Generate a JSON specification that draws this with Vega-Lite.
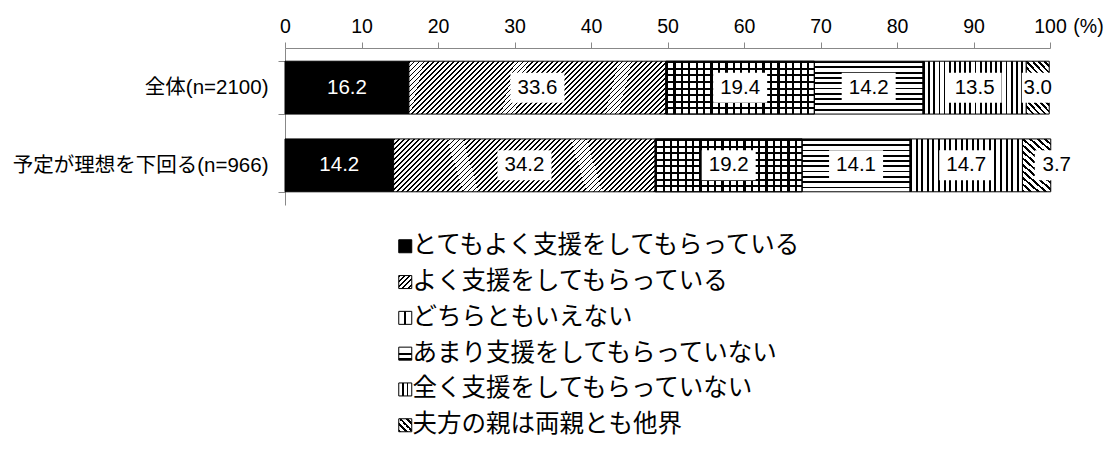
{
  "$schema": "https://vega.github.io/schema/vega-lite/v6.json",
  "width": 765,
  "height": 157,
  "autosize": {"type": "none"},
  "padding": {"left": 285, "top": 48, "right": 70, "bottom": 245},
  "background": "#ffffff",
  "config": {"view": {"stroke": null}},
  "data": {"values": [
    {"group": "全体(n=2100)", "cat": "とてもよく支援をしてもらっている", "ord": 1, "value": 16.2},
    {"group": "全体(n=2100)", "cat": "よく支援をしてもらっている", "ord": 2, "value": 33.6},
    {"group": "全体(n=2100)", "cat": "どちらともいえない", "ord": 3, "value": 19.4},
    {"group": "全体(n=2100)", "cat": "あまり支援をしてもらっていない", "ord": 4, "value": 14.2},
    {"group": "全体(n=2100)", "cat": "全く支援をしてもらっていない", "ord": 5, "value": 13.5},
    {"group": "全体(n=2100)", "cat": "夫方の親は両親とも他界", "ord": 6, "value": 3.0},
    {"group": "予定が理想を下回る(n=966)", "cat": "とてもよく支援をしてもらっている", "ord": 1, "value": 14.2},
    {"group": "予定が理想を下回る(n=966)", "cat": "よく支援をしてもらっている", "ord": 2, "value": 34.2},
    {"group": "予定が理想を下回る(n=966)", "cat": "どちらともいえない", "ord": 3, "value": 19.2},
    {"group": "予定が理想を下回る(n=966)", "cat": "あまり支援をしてもらっていない", "ord": 4, "value": 14.1},
    {"group": "予定が理想を下回る(n=966)", "cat": "全く支援をしてもらっていない", "ord": 5, "value": 14.7},
    {"group": "予定が理想を下回る(n=966)", "cat": "夫方の親は両親とも他界", "ord": 6, "value": 3.7}
  ]},
  "transform": [
    {"stack": "value", "groupby": ["group"], "sort": [{"field": "ord", "order": "ascending"}], "as": ["x0", "x1"]},
    {"calculate": "(datum.x0+datum.x1)/2", "as": "mid"}
  ],
  "encoding": {
    "y": {
      "field": "group", "type": "nominal", "sort": null, "title": null,
      "scale": {"paddingInner": 0.32, "paddingOuter": 0.17},
      "axis": {
        "title": null, "domainColor": "#888888", "tickColor": "#888888", "tickSize": 7,
        "tickBand": "extent", "labelFont": "'Liberation Sans','Noto Sans CJK JP'", "labelFontSize": 20.5,
        "labelColor": "#000000", "labelPadding": 10, "labelLimit": 0
      }
    }
  },
  "layer": [
    {
      "mark": {"type": "bar", "stroke": "#000000", "strokeWidth": 1},
      "encoding": {
        "x": {
          "field": "x0", "type": "quantitative", "title": "(%)",
          "scale": {"domain": [0, 100], "nice": false},
          "axis": {
            "orient": "top", "values": [0, 10, 20, 30, 40, 50, 60, 70, 80, 90, 100], "grid": false,
            "title": "(%)", "titleX": 803, "titleY": -16, "titleAlign": "center", "titleBaseline": "alphabetic",
            "titleFont": "Liberation Sans", "titleFontSize": 19.5, "titleFontWeight": "normal", "titleColor": "#000000",
            "domainColor": "#888888", "tickColor": "#888888", "tickSize": 6,
            "labelFont": "Liberation Sans", "labelFontSize": 19.5, "labelColor": "#000000",
            "labelPadding": 10, "labelBaseline": "alphabetic", "labelFlush": false, "labelOverlap": false
          }
        },
        "x2": {"field": "x1"},
        "fill": {
          "field": "cat", "type": "nominal",
          "scale": {
            "domain": ["とてもよく支援をしてもらっている", "よく支援をしてもらっている", "どちらともいえない", "あまり支援をしてもらっていない", "全く支援をしてもらっていない", "夫方の親は両親とも他界"],
            "range": [
              "#000000",
              {"expr": "{gradient:'linear',x1:0,y1:0,x2:1,y2:1,stops:[{offset:0,color:'#000'},{offset:0.08,color:'#000'},{offset:0.08,color:'#fff'},{offset:0.2,color:'#fff'},{offset:0.2,color:'#000'},{offset:0.28,color:'#000'},{offset:0.28,color:'#fff'},{offset:0.4,color:'#fff'},{offset:0.4,color:'#000'},{offset:0.48,color:'#000'},{offset:0.48,color:'#fff'},{offset:0.6,color:'#fff'},{offset:0.6,color:'#000'},{offset:0.68,color:'#000'},{offset:0.68,color:'#fff'},{offset:0.8,color:'#fff'},{offset:0.8,color:'#000'},{offset:0.88,color:'#000'},{offset:0.88,color:'#fff'},{offset:1,color:'#fff'}]}"},
              {"expr": "{gradient:'linear',x1:0,y1:0,x2:1,y2:0,stops:[{offset:0,color:'#fff'},{offset:0.42,color:'#fff'},{offset:0.42,color:'#000'},{offset:0.58,color:'#000'},{offset:0.58,color:'#fff'},{offset:1,color:'#fff'}]}"},
              {"expr": "{gradient:'linear',x1:0,y1:0,x2:0,y2:1,stops:[{offset:0,color:'#fff'},{offset:0.42,color:'#fff'},{offset:0.42,color:'#000'},{offset:0.58,color:'#000'},{offset:0.58,color:'#fff'},{offset:0.8,color:'#fff'},{offset:0.8,color:'#000'},{offset:1,color:'#000'}]}"},
              {"expr": "{gradient:'linear',x1:0,y1:0,x2:1,y2:0,stops:[{offset:0,color:'#fff'},{offset:0.28,color:'#fff'},{offset:0.28,color:'#000'},{offset:0.4,color:'#000'},{offset:0.4,color:'#fff'},{offset:0.6,color:'#fff'},{offset:0.6,color:'#000'},{offset:0.72,color:'#000'},{offset:0.72,color:'#fff'},{offset:1,color:'#fff'}]}"},
              {"expr": "{gradient:'linear',x1:0,y1:1,x2:1,y2:0,stops:[{offset:0,color:'#000'},{offset:0.1,color:'#000'},{offset:0.1,color:'#fff'},{offset:0.25,color:'#fff'},{offset:0.25,color:'#000'},{offset:0.35,color:'#000'},{offset:0.35,color:'#fff'},{offset:0.5,color:'#fff'},{offset:0.5,color:'#000'},{offset:0.6,color:'#000'},{offset:0.6,color:'#fff'},{offset:0.75,color:'#fff'},{offset:0.75,color:'#000'},{offset:0.85,color:'#000'},{offset:0.85,color:'#fff'},{offset:1,color:'#fff'}]}"}
            ]
          },
          "legend": {
            "orient": "none", "legendX": 108, "legendY": 186, "direction": "vertical", "title": null,
            "symbolType": "square", "symbolSize": 169, "symbolStrokeColor": "#000000", "symbolStrokeWidth": 1,
            "labelFont": "Noto Sans CJK JP", "labelFontSize": 24.5, "labelColor": "#000000", "labelLimit": 0,
            "rowPadding": 10.8, "labelOffset": -5, "padding": 0
          },
          "condition": [
            {"test": "datum.ord==1", "value": "#000000"},
            {"test": "datum.ord==2", "value": {"gradient": "linear", "x1": 0, "y1": 0, "x2": 1.156, "y2": 0.236, "stops": [
              {"offset":0,"color":"#000"},{"offset":0.006,"color":"#000"},{"offset":0.006,"color":"#fff"},{"offset":0.016,"color":"#fff"},
              {"offset":0.016,"color":"#000"},{"offset":0.022,"color":"#000"},{"offset":0.022,"color":"#fff"},{"offset":0.032,"color":"#fff"},
              {"offset":0.032,"color":"#000"},{"offset":0.038,"color":"#000"},{"offset":0.038,"color":"#fff"},{"offset":0.048,"color":"#fff"},
              {"offset":0.048,"color":"#000"},{"offset":0.054,"color":"#000"},{"offset":0.054,"color":"#fff"},{"offset":0.064,"color":"#fff"},
              {"offset":0.064,"color":"#000"},{"offset":0.07,"color":"#000"},{"offset":0.07,"color":"#fff"},{"offset":0.08,"color":"#fff"},
              {"offset":0.08,"color":"#000"},{"offset":0.086,"color":"#000"},{"offset":0.086,"color":"#fff"},{"offset":0.096,"color":"#fff"},
              {"offset":0.096,"color":"#000"},{"offset":0.102,"color":"#000"},{"offset":0.102,"color":"#fff"},{"offset":0.112,"color":"#fff"},
              {"offset":0.112,"color":"#000"},{"offset":0.118,"color":"#000"},{"offset":0.118,"color":"#fff"},{"offset":0.128,"color":"#fff"},
              {"offset":0.128,"color":"#000"},{"offset":0.134,"color":"#000"},{"offset":0.134,"color":"#fff"},{"offset":0.144,"color":"#fff"},
              {"offset":0.144,"color":"#000"},{"offset":0.15,"color":"#000"},{"offset":0.15,"color":"#fff"},{"offset":0.16,"color":"#fff"},
              {"offset":0.16,"color":"#000"},{"offset":0.166,"color":"#000"},{"offset":0.166,"color":"#fff"},{"offset":0.176,"color":"#fff"},
              {"offset":0.176,"color":"#000"},{"offset":0.182,"color":"#000"},{"offset":0.182,"color":"#fff"},{"offset":0.192,"color":"#fff"},
              {"offset":0.192,"color":"#000"},{"offset":0.198,"color":"#000"},{"offset":0.198,"color":"#fff"},{"offset":0.208,"color":"#fff"},
              {"offset":0.208,"color":"#000"},{"offset":0.214,"color":"#000"},{"offset":0.214,"color":"#fff"},{"offset":0.224,"color":"#fff"},
              {"offset":0.224,"color":"#000"},{"offset":0.23,"color":"#000"},{"offset":0.23,"color":"#fff"},{"offset":0.24,"color":"#fff"},
              {"offset":0.24,"color":"#000"},{"offset":0.246,"color":"#000"},{"offset":0.246,"color":"#fff"},{"offset":0.256,"color":"#fff"},
              {"offset":0.256,"color":"#000"},{"offset":0.262,"color":"#000"},{"offset":0.262,"color":"#fff"},{"offset":0.272,"color":"#fff"},
              {"offset":0.272,"color":"#000"},{"offset":0.278,"color":"#000"},{"offset":0.278,"color":"#fff"},{"offset":0.288,"color":"#fff"},
              {"offset":0.288,"color":"#000"},{"offset":0.294,"color":"#000"},{"offset":0.294,"color":"#fff"},{"offset":0.304,"color":"#fff"},
              {"offset":0.304,"color":"#000"},{"offset":0.31,"color":"#000"},{"offset":0.31,"color":"#fff"},{"offset":0.32,"color":"#fff"},
              {"offset":0.32,"color":"#000"},{"offset":0.326,"color":"#000"},{"offset":0.326,"color":"#fff"},{"offset":0.336,"color":"#fff"},
              {"offset":0.336,"color":"#000"},{"offset":0.342,"color":"#000"},{"offset":0.342,"color":"#fff"},{"offset":0.352,"color":"#fff"},
              {"offset":0.352,"color":"#000"},{"offset":0.358,"color":"#000"},{"offset":0.358,"color":"#fff"},{"offset":0.368,"color":"#fff"},
              {"offset":0.368,"color":"#000"},{"offset":0.374,"color":"#000"},{"offset":0.374,"color":"#fff"},{"offset":0.384,"color":"#fff"},
              {"offset":0.384,"color":"#000"},{"offset":0.39,"color":"#000"},{"offset":0.39,"color":"#fff"},{"offset":0.4,"color":"#fff"},
              {"offset":0.4,"color":"#000"},{"offset":0.406,"color":"#000"},{"offset":0.406,"color":"#fff"},{"offset":0.416,"color":"#fff"},
              {"offset":0.416,"color":"#000"},{"offset":0.422,"color":"#000"},{"offset":0.422,"color":"#fff"},{"offset":0.432,"color":"#fff"},
              {"offset":0.432,"color":"#000"},{"offset":0.438,"color":"#000"},{"offset":0.438,"color":"#fff"},{"offset":0.448,"color":"#fff"},
              {"offset":0.448,"color":"#000"},{"offset":0.454,"color":"#000"},{"offset":0.454,"color":"#fff"},{"offset":0.464,"color":"#fff"},
              {"offset":0.464,"color":"#000"},{"offset":0.47,"color":"#000"},{"offset":0.47,"color":"#fff"},{"offset":0.48,"color":"#fff"},
              {"offset":0.48,"color":"#000"},{"offset":0.486,"color":"#000"},{"offset":0.486,"color":"#fff"},{"offset":0.496,"color":"#fff"},
              {"offset":0.496,"color":"#000"},{"offset":0.502,"color":"#000"},{"offset":0.502,"color":"#fff"},{"offset":0.512,"color":"#fff"},
              {"offset":0.512,"color":"#000"},{"offset":0.518,"color":"#000"},{"offset":0.518,"color":"#fff"},{"offset":0.528,"color":"#fff"},
              {"offset":0.528,"color":"#000"},{"offset":0.534,"color":"#000"},{"offset":0.534,"color":"#fff"},{"offset":0.544,"color":"#fff"},
              {"offset":0.544,"color":"#000"},{"offset":0.55,"color":"#000"},{"offset":0.55,"color":"#fff"},{"offset":0.56,"color":"#fff"},
              {"offset":0.56,"color":"#000"},{"offset":0.566,"color":"#000"},{"offset":0.566,"color":"#fff"},{"offset":0.576,"color":"#fff"},
              {"offset":0.576,"color":"#000"},{"offset":0.582,"color":"#000"},{"offset":0.582,"color":"#fff"},{"offset":0.592,"color":"#fff"},
              {"offset":0.592,"color":"#000"},{"offset":0.598,"color":"#000"},{"offset":0.598,"color":"#fff"},{"offset":0.608,"color":"#fff"},
              {"offset":0.608,"color":"#000"},{"offset":0.614,"color":"#000"},{"offset":0.614,"color":"#fff"},{"offset":0.624,"color":"#fff"},
              {"offset":0.624,"color":"#000"},{"offset":0.63,"color":"#000"},{"offset":0.63,"color":"#fff"},{"offset":0.64,"color":"#fff"},
              {"offset":0.64,"color":"#000"},{"offset":0.646,"color":"#000"},{"offset":0.646,"color":"#fff"},{"offset":0.656,"color":"#fff"},
              {"offset":0.656,"color":"#000"},{"offset":0.662,"color":"#000"},{"offset":0.662,"color":"#fff"},{"offset":0.672,"color":"#fff"},
              {"offset":0.672,"color":"#000"},{"offset":0.678,"color":"#000"},{"offset":0.678,"color":"#fff"},{"offset":0.688,"color":"#fff"},
              {"offset":0.688,"color":"#000"},{"offset":0.694,"color":"#000"},{"offset":0.694,"color":"#fff"},{"offset":0.704,"color":"#fff"},
              {"offset":0.704,"color":"#000"},{"offset":0.71,"color":"#000"},{"offset":0.71,"color":"#fff"},{"offset":0.72,"color":"#fff"},
              {"offset":0.72,"color":"#000"},{"offset":0.726,"color":"#000"},{"offset":0.726,"color":"#fff"},{"offset":0.736,"color":"#fff"},
              {"offset":0.736,"color":"#000"},{"offset":0.742,"color":"#000"},{"offset":0.742,"color":"#fff"},{"offset":0.752,"color":"#fff"},
              {"offset":0.752,"color":"#000"},{"offset":0.758,"color":"#000"},{"offset":0.758,"color":"#fff"},{"offset":0.768,"color":"#fff"},
              {"offset":0.768,"color":"#000"},{"offset":0.774,"color":"#000"},{"offset":0.774,"color":"#fff"},{"offset":0.784,"color":"#fff"},
              {"offset":0.784,"color":"#000"},{"offset":0.79,"color":"#000"},{"offset":0.79,"color":"#fff"},{"offset":0.8,"color":"#fff"},
              {"offset":0.8,"color":"#000"},{"offset":0.806,"color":"#000"},{"offset":0.806,"color":"#fff"},{"offset":0.816,"color":"#fff"},
              {"offset":0.816,"color":"#000"},{"offset":0.822,"color":"#000"},{"offset":0.822,"color":"#fff"},{"offset":0.832,"color":"#fff"},
              {"offset":0.832,"color":"#000"},{"offset":0.838,"color":"#000"},{"offset":0.838,"color":"#fff"},{"offset":0.848,"color":"#fff"},
              {"offset":0.848,"color":"#000"},{"offset":0.854,"color":"#000"},{"offset":0.854,"color":"#fff"},{"offset":0.864,"color":"#fff"},
              {"offset":0.864,"color":"#000"},{"offset":0.87,"color":"#000"},{"offset":0.87,"color":"#fff"},{"offset":0.88,"color":"#fff"},
              {"offset":0.88,"color":"#000"},{"offset":0.886,"color":"#000"},{"offset":0.886,"color":"#fff"},{"offset":0.896,"color":"#fff"},
              {"offset":0.896,"color":"#000"},{"offset":0.902,"color":"#000"},{"offset":0.902,"color":"#fff"},{"offset":0.912,"color":"#fff"},
              {"offset":0.912,"color":"#000"},{"offset":0.918,"color":"#000"},{"offset":0.918,"color":"#fff"},{"offset":0.928,"color":"#fff"},
              {"offset":0.928,"color":"#000"},{"offset":0.934,"color":"#000"},{"offset":0.934,"color":"#fff"},{"offset":0.944,"color":"#fff"},
              {"offset":0.944,"color":"#000"},{"offset":0.95,"color":"#000"},{"offset":0.95,"color":"#fff"},{"offset":0.96,"color":"#fff"},
              {"offset":0.96,"color":"#000"},{"offset":0.966,"color":"#000"},{"offset":0.966,"color":"#fff"},{"offset":0.976,"color":"#fff"},
              {"offset":0.976,"color":"#000"},{"offset":0.982,"color":"#000"},{"offset":0.982,"color":"#fff"},{"offset":0.992,"color":"#fff"},
              {"offset":0.992,"color":"#000"},{"offset":0.998,"color":"#000"},{"offset":0.998,"color":"#fff"},{"offset":1,"color":"#fff"}
            ]}},
            {"test": "datum.ord==3", "value": {"gradient": "linear", "x1": 0, "y1": 0, "x2": 1, "y2": 0, "stops": [
              {"offset":0,"color":"#000"},{"offset":0.015,"color":"#000"},{"offset":0.015,"color":"#fff"},{"offset":0.05,"color":"#fff"},
              {"offset":0.05,"color":"#000"},{"offset":0.065,"color":"#000"},{"offset":0.065,"color":"#fff"},{"offset":0.1,"color":"#fff"},
              {"offset":0.1,"color":"#000"},{"offset":0.115,"color":"#000"},{"offset":0.115,"color":"#fff"},{"offset":0.15,"color":"#fff"},
              {"offset":0.15,"color":"#000"},{"offset":0.165,"color":"#000"},{"offset":0.165,"color":"#fff"},{"offset":0.2,"color":"#fff"},
              {"offset":0.2,"color":"#000"},{"offset":0.215,"color":"#000"},{"offset":0.215,"color":"#fff"},{"offset":0.25,"color":"#fff"},
              {"offset":0.25,"color":"#000"},{"offset":0.265,"color":"#000"},{"offset":0.265,"color":"#fff"},{"offset":0.3,"color":"#fff"},
              {"offset":0.3,"color":"#000"},{"offset":0.315,"color":"#000"},{"offset":0.315,"color":"#fff"},{"offset":0.35,"color":"#fff"},
              {"offset":0.35,"color":"#000"},{"offset":0.365,"color":"#000"},{"offset":0.365,"color":"#fff"},{"offset":0.4,"color":"#fff"},
              {"offset":0.4,"color":"#000"},{"offset":0.415,"color":"#000"},{"offset":0.415,"color":"#fff"},{"offset":0.45,"color":"#fff"},
              {"offset":0.45,"color":"#000"},{"offset":0.465,"color":"#000"},{"offset":0.465,"color":"#fff"},{"offset":0.5,"color":"#fff"},
              {"offset":0.5,"color":"#000"},{"offset":0.515,"color":"#000"},{"offset":0.515,"color":"#fff"},{"offset":0.55,"color":"#fff"},
              {"offset":0.55,"color":"#000"},{"offset":0.565,"color":"#000"},{"offset":0.565,"color":"#fff"},{"offset":0.6,"color":"#fff"},
              {"offset":0.6,"color":"#000"},{"offset":0.615,"color":"#000"},{"offset":0.615,"color":"#fff"},{"offset":0.65,"color":"#fff"},
              {"offset":0.65,"color":"#000"},{"offset":0.665,"color":"#000"},{"offset":0.665,"color":"#fff"},{"offset":0.7,"color":"#fff"},
              {"offset":0.7,"color":"#000"},{"offset":0.715,"color":"#000"},{"offset":0.715,"color":"#fff"},{"offset":0.75,"color":"#fff"},
              {"offset":0.75,"color":"#000"},{"offset":0.765,"color":"#000"},{"offset":0.765,"color":"#fff"},{"offset":0.8,"color":"#fff"},
              {"offset":0.8,"color":"#000"},{"offset":0.815,"color":"#000"},{"offset":0.815,"color":"#fff"},{"offset":0.85,"color":"#fff"},
              {"offset":0.85,"color":"#000"},{"offset":0.865,"color":"#000"},{"offset":0.865,"color":"#fff"},{"offset":0.9,"color":"#fff"},
              {"offset":0.9,"color":"#000"},{"offset":0.915,"color":"#000"},{"offset":0.915,"color":"#fff"},{"offset":0.95,"color":"#fff"},
              {"offset":0.95,"color":"#000"},{"offset":0.965,"color":"#000"},{"offset":0.965,"color":"#fff"},{"offset":1,"color":"#fff"}
            ]}},
            {"test": "datum.ord==4", "value": {"gradient": "linear", "x1": 0, "y1": 0, "x2": 0, "y2": 1, "stops": [
              {"offset":0,"color":"#000"},{"offset":0.035,"color":"#000"},{"offset":0.035,"color":"#fff"},{"offset":0.1,"color":"#fff"},
              {"offset":0.1,"color":"#000"},{"offset":0.135,"color":"#000"},{"offset":0.135,"color":"#fff"},{"offset":0.2,"color":"#fff"},
              {"offset":0.2,"color":"#000"},{"offset":0.235,"color":"#000"},{"offset":0.235,"color":"#fff"},{"offset":0.3,"color":"#fff"},
              {"offset":0.3,"color":"#000"},{"offset":0.335,"color":"#000"},{"offset":0.335,"color":"#fff"},{"offset":0.4,"color":"#fff"},
              {"offset":0.4,"color":"#000"},{"offset":0.435,"color":"#000"},{"offset":0.435,"color":"#fff"},{"offset":0.5,"color":"#fff"},
              {"offset":0.5,"color":"#000"},{"offset":0.535,"color":"#000"},{"offset":0.535,"color":"#fff"},{"offset":0.6,"color":"#fff"},
              {"offset":0.6,"color":"#000"},{"offset":0.635,"color":"#000"},{"offset":0.635,"color":"#fff"},{"offset":0.7,"color":"#fff"},
              {"offset":0.7,"color":"#000"},{"offset":0.735,"color":"#000"},{"offset":0.735,"color":"#fff"},{"offset":0.8,"color":"#fff"},
              {"offset":0.8,"color":"#000"},{"offset":0.835,"color":"#000"},{"offset":0.835,"color":"#fff"},{"offset":0.9,"color":"#fff"},
              {"offset":0.9,"color":"#000"},{"offset":0.935,"color":"#000"},{"offset":0.935,"color":"#fff"},{"offset":1,"color":"#fff"}
            ]}},
            {"test": "datum.ord==5", "value": {"gradient": "linear", "x1": 0, "y1": 0, "x2": 1, "y2": 0, "stops": [
              {"offset":0,"color":"#000"},{"offset":0.0175,"color":"#000"},{"offset":0.0175,"color":"#fff"},{"offset":0.05,"color":"#fff"},
              {"offset":0.05,"color":"#000"},{"offset":0.0675,"color":"#000"},{"offset":0.0675,"color":"#fff"},{"offset":0.1,"color":"#fff"},
              {"offset":0.1,"color":"#000"},{"offset":0.1175,"color":"#000"},{"offset":0.1175,"color":"#fff"},{"offset":0.15,"color":"#fff"},
              {"offset":0.15,"color":"#000"},{"offset":0.1675,"color":"#000"},{"offset":0.1675,"color":"#fff"},{"offset":0.2,"color":"#fff"},
              {"offset":0.2,"color":"#000"},{"offset":0.2175,"color":"#000"},{"offset":0.2175,"color":"#fff"},{"offset":0.25,"color":"#fff"},
              {"offset":0.25,"color":"#000"},{"offset":0.2675,"color":"#000"},{"offset":0.2675,"color":"#fff"},{"offset":0.3,"color":"#fff"},
              {"offset":0.3,"color":"#000"},{"offset":0.3175,"color":"#000"},{"offset":0.3175,"color":"#fff"},{"offset":0.35,"color":"#fff"},
              {"offset":0.35,"color":"#000"},{"offset":0.3675,"color":"#000"},{"offset":0.3675,"color":"#fff"},{"offset":0.4,"color":"#fff"},
              {"offset":0.4,"color":"#000"},{"offset":0.4175,"color":"#000"},{"offset":0.4175,"color":"#fff"},{"offset":0.45,"color":"#fff"},
              {"offset":0.45,"color":"#000"},{"offset":0.4675,"color":"#000"},{"offset":0.4675,"color":"#fff"},{"offset":0.5,"color":"#fff"},
              {"offset":0.5,"color":"#000"},{"offset":0.5175,"color":"#000"},{"offset":0.5175,"color":"#fff"},{"offset":0.55,"color":"#fff"},
              {"offset":0.55,"color":"#000"},{"offset":0.5675,"color":"#000"},{"offset":0.5675,"color":"#fff"},{"offset":0.6,"color":"#fff"},
              {"offset":0.6,"color":"#000"},{"offset":0.6175,"color":"#000"},{"offset":0.6175,"color":"#fff"},{"offset":0.65,"color":"#fff"},
              {"offset":0.65,"color":"#000"},{"offset":0.6675,"color":"#000"},{"offset":0.6675,"color":"#fff"},{"offset":0.7,"color":"#fff"},
              {"offset":0.7,"color":"#000"},{"offset":0.7175,"color":"#000"},{"offset":0.7175,"color":"#fff"},{"offset":0.75,"color":"#fff"},
              {"offset":0.75,"color":"#000"},{"offset":0.7675,"color":"#000"},{"offset":0.7675,"color":"#fff"},{"offset":0.8,"color":"#fff"},
              {"offset":0.8,"color":"#000"},{"offset":0.8175,"color":"#000"},{"offset":0.8175,"color":"#fff"},{"offset":0.85,"color":"#fff"},
              {"offset":0.85,"color":"#000"},{"offset":0.8675,"color":"#000"},{"offset":0.8675,"color":"#fff"},{"offset":0.9,"color":"#fff"},
              {"offset":0.9,"color":"#000"},{"offset":0.9175,"color":"#000"},{"offset":0.9175,"color":"#fff"},{"offset":0.95,"color":"#fff"},
              {"offset":0.95,"color":"#000"},{"offset":0.9675,"color":"#000"},{"offset":0.9675,"color":"#fff"},{"offset":1,"color":"#fff"}
            ]}},
            {"test": "datum.ord==6", "value": {"gradient": "linear", "x1": 0, "y1": 1, "x2": 0.568, "y2": -0.204, "stops": [
              {"offset":0,"color":"#000"},{"offset":0.0333,"color":"#000"},{"offset":0.0333,"color":"#fff"},{"offset":0.0833,"color":"#fff"},
              {"offset":0.0833,"color":"#000"},{"offset":0.1167,"color":"#000"},{"offset":0.1167,"color":"#fff"},{"offset":0.1667,"color":"#fff"},
              {"offset":0.1667,"color":"#000"},{"offset":0.2,"color":"#000"},{"offset":0.2,"color":"#fff"},{"offset":0.25,"color":"#fff"},
              {"offset":0.25,"color":"#000"},{"offset":0.2833,"color":"#000"},{"offset":0.2833,"color":"#fff"},{"offset":0.3333,"color":"#fff"},
              {"offset":0.3333,"color":"#000"},{"offset":0.3667,"color":"#000"},{"offset":0.3667,"color":"#fff"},{"offset":0.4167,"color":"#fff"},
              {"offset":0.4167,"color":"#000"},{"offset":0.45,"color":"#000"},{"offset":0.45,"color":"#fff"},{"offset":0.5,"color":"#fff"},
              {"offset":0.5,"color":"#000"},{"offset":0.5333,"color":"#000"},{"offset":0.5333,"color":"#fff"},{"offset":0.5833,"color":"#fff"},
              {"offset":0.5833,"color":"#000"},{"offset":0.6167,"color":"#000"},{"offset":0.6167,"color":"#fff"},{"offset":0.6667,"color":"#fff"},
              {"offset":0.6667,"color":"#000"},{"offset":0.7,"color":"#000"},{"offset":0.7,"color":"#fff"},{"offset":0.75,"color":"#fff"},
              {"offset":0.75,"color":"#000"},{"offset":0.7833,"color":"#000"},{"offset":0.7833,"color":"#fff"},{"offset":0.8333,"color":"#fff"},
              {"offset":0.8333,"color":"#000"},{"offset":0.8667,"color":"#000"},{"offset":0.8667,"color":"#fff"},{"offset":0.9167,"color":"#fff"},
              {"offset":0.9167,"color":"#000"},{"offset":0.95,"color":"#000"},{"offset":0.95,"color":"#fff"},{"offset":1,"color":"#fff"}
            ]}}
          ]
        }
      }
    },
    {
      "transform": [{"filter": "datum.ord==3"}],
      "mark": {"type": "bar", "stroke": "#000000", "strokeWidth": 1},
      "encoding": {
        "x": {"field": "x0", "type": "quantitative", "title": "(%)"},
        "x2": {"field": "x1"},
        "fill": {"value": {"gradient": "linear", "x1": 0, "y1": 0, "x2": 0, "y2": 1, "stops": [
          {"offset":0,"color":"#000"},{"offset":0.0375,"color":"#000"},{"offset":0.0375,"color":"rgba(0,0,0,0)"},{"offset":0.125,"color":"rgba(0,0,0,0)"},
          {"offset":0.125,"color":"#000"},{"offset":0.1625,"color":"#000"},{"offset":0.1625,"color":"rgba(0,0,0,0)"},{"offset":0.25,"color":"rgba(0,0,0,0)"},
          {"offset":0.25,"color":"#000"},{"offset":0.2875,"color":"#000"},{"offset":0.2875,"color":"rgba(0,0,0,0)"},{"offset":0.375,"color":"rgba(0,0,0,0)"},
          {"offset":0.375,"color":"#000"},{"offset":0.4125,"color":"#000"},{"offset":0.4125,"color":"rgba(0,0,0,0)"},{"offset":0.5,"color":"rgba(0,0,0,0)"},
          {"offset":0.5,"color":"#000"},{"offset":0.5375,"color":"#000"},{"offset":0.5375,"color":"rgba(0,0,0,0)"},{"offset":0.625,"color":"rgba(0,0,0,0)"},
          {"offset":0.625,"color":"#000"},{"offset":0.6625,"color":"#000"},{"offset":0.6625,"color":"rgba(0,0,0,0)"},{"offset":0.75,"color":"rgba(0,0,0,0)"},
          {"offset":0.75,"color":"#000"},{"offset":0.7875,"color":"#000"},{"offset":0.7875,"color":"rgba(0,0,0,0)"},{"offset":0.875,"color":"rgba(0,0,0,0)"},
          {"offset":0.875,"color":"#000"},{"offset":0.9125,"color":"#000"},{"offset":0.9125,"color":"rgba(0,0,0,0)"},{"offset":1,"color":"rgba(0,0,0,0)"}
        ]}}
      }
    },
    {
      "transform": [{"filter": "datum.ord>1 && !(datum.ord==6 && datum.group=='予定が理想を下回る(n=966)')"}],
      "mark": {"type": "point", "filled": true, "fill": "#ffffff", "opacity": 1, "strokeWidth": 0},
      "encoding": {
        "x": {"field": "mid", "type": "quantitative", "title": "(%)"},
        "shape": {"condition": {"test": "datum.value<10", "value": "M-1,-0.9375H1V0.9375H-1Z"}, "value": "M-1,-0.556H1V0.556H-1Z"},
        "size": {"condition": {"test": "datum.value<10", "value": 1024}, "value": 2916}
      }
    },
    {
      "transform": [{"filter": "datum.ord==6 && datum.group=='予定が理想を下回る(n=966)'"}],
      "mark": {"type": "point", "filled": true, "fill": "#ffffff", "opacity": 1, "strokeWidth": 0, "shape": "M-1,-0.9375H1V0.9375H-1Z", "size": 1024},
      "encoding": {
        "x": {"field": "x1", "type": "quantitative", "title": "(%)"}
      }
    },
    {
      "transform": [{"filter": "!(datum.ord==6 && datum.group=='予定が理想を下回る(n=966)')"}],
      "mark": {"type": "text", "font": "Liberation Sans", "fontSize": 20.5, "baseline": "middle", "align": "center"},
      "encoding": {
        "x": {"field": "mid", "type": "quantitative", "title": "(%)"},
        "text": {"field": "value", "type": "quantitative", "format": ".1f"},
        "fill": {"condition": {"test": "datum.ord==1", "value": "#ffffff"}, "value": "#000000"}
      }
    },
    {
      "transform": [{"filter": "datum.ord==6 && datum.group=='予定が理想を下回る(n=966)'"}],
      "mark": {"type": "text", "font": "Liberation Sans", "fontSize": 20.5, "baseline": "middle", "align": "center", "dx": 6, "fill": "#000000"},
      "encoding": {
        "x": {"field": "x1", "type": "quantitative", "title": "(%)"},
        "text": {"field": "value", "type": "quantitative", "format": ".1f"}
      }
    }
  ]
}
